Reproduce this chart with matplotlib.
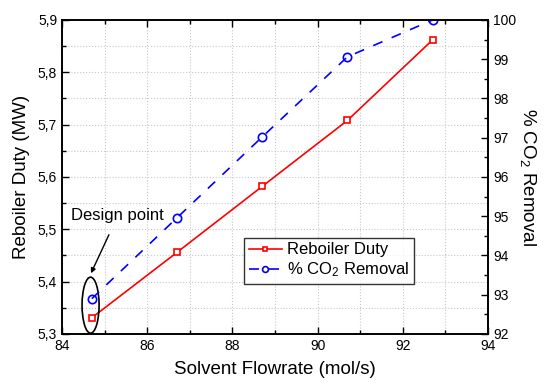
import matplotlib
matplotlib.use("Agg")
import matplotlib.pyplot as plt
from matplotlib.patches import Ellipse
from matplotlib.ticker import MultipleLocator, FuncFormatter

plt.rcParams['font.family'] = ['Liberation Sans', 'DejaVu Sans']
plt.rcParams['mathtext.fontset'] = 'custom'
plt.rcParams['mathtext.rm'] = 'Liberation Sans'
plt.rcParams['mathtext.it'] = 'Liberation Sans:italic'

flowrate = [84.7, 86.7, 88.7, 90.7, 92.7]
reboiler_duty = [5.331, 5.456, 5.582, 5.708, 5.862]
co2_removal = [92.9, 94.96, 97.02, 99.06, 100.0]

fig = plt.figure(figsize=(5.46, 3.83), dpi=100)
ax = fig.add_axes([0.1136, 0.128, 0.7802, 0.82])
ax2 = ax.twinx()

l1, = ax.plot(flowrate, reboiler_duty, color='red', lw=1.2, marker='s', ms=5,
              mfc='white', mec='red', mew=1.2, label='Reboiler Duty')
l2, = ax2.plot(flowrate, co2_removal, color='blue', lw=1.2, ls=(0, (6, 6)), marker='o', ms=6,
               mfc='none', mec='blue', mew=1.2, label='% CO$_2$ Removal')

ax.set_xlim(84, 94)
ax.set_ylim(5.3, 5.9)
ax2.set_ylim(92, 100)

ax.xaxis.set_major_locator(MultipleLocator(2))
ax.xaxis.set_minor_locator(MultipleLocator(1))
ax.yaxis.set_major_locator(MultipleLocator(0.1))
ax.yaxis.set_minor_locator(MultipleLocator(0.05))
ax2.yaxis.set_major_locator(MultipleLocator(1))
ax2.yaxis.set_minor_locator(MultipleLocator(0.5))

ax.yaxis.set_major_formatter(FuncFormatter(lambda v, p: f"{v:.1f}".replace('.', ',')))

ax.grid(True, which='both', color='#c8c8c8', ls=':', lw=0.8)
ax.set_axisbelow(True)

ax.tick_params(which='both', direction='in', top=True, labelsize=10)
ax.tick_params(which='major', length=5, width=1)
ax.tick_params(which='minor', length=3, width=1)
ax2.tick_params(which='both', direction='in', labelsize=10)
ax2.tick_params(which='major', length=5, width=1)
ax2.tick_params(which='minor', length=3, width=1)
for a in (ax, ax2):
    for s in a.spines.values():
        s.set_linewidth(1.2)

ax.set_xlabel('Solvent Flowrate (mol/s)', fontsize=13.5, labelpad=6)
ax.set_ylabel('Reboiler Duty (MW)', fontsize=13.5, labelpad=6)
ax2.set_ylabel('% CO$_2$ Removal', fontsize=13.5, rotation=270, labelpad=16)

ell = Ellipse((84.67, 5.355), 0.4, 0.107, fill=False, ec='black', lw=1.2, zorder=5)
ax.add_patch(ell)
ax.annotate('Design point', xy=(84.68, 5.416), xytext=(85.31, 5.526),
            fontsize=12, ha='center', va='center',
            arrowprops=dict(arrowstyle='-|>', color='black', lw=1, mutation_scale=7,
                            shrinkA=7, shrinkB=0))

leg = ax.legend([l1, l2], ['Reboiler Duty', '% CO$_2$ Removal'],
                loc='upper left', bbox_to_anchor=(0.428, 0.305),
                fontsize=12, frameon=True, fancybox=False, edgecolor='black',
                handlelength=2.0, handletextpad=0.3, borderpad=0.25, labelspacing=0.2,
                borderaxespad=0, markerscale=0.7)
leg.get_frame().set_linewidth(1)

fig.savefig('out.png', dpi=100)
